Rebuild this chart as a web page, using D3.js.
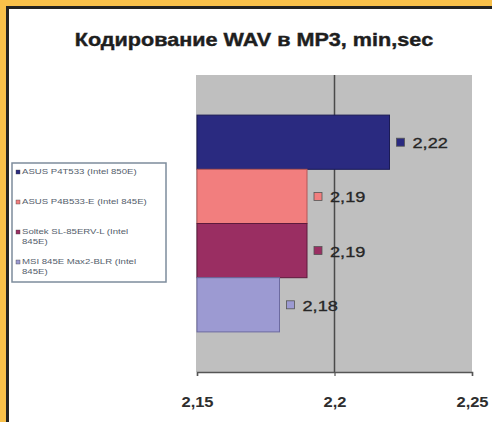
<!DOCTYPE html>
<html>
<head>
<meta charset="utf-8">
<script src="https://cdn.jsdelivr.net/npm/d3@7"></script>
<style>
  html, body { margin: 0; padding: 0; background: #F8C04A; }
  svg { display: block; }
  text { font-family: "Liberation Sans", Arial, sans-serif; }
</style>
</head>
<body>
<svg id="chart" width="492" height="422"></svg>
<script>
// Encoding time WAV -> MP3, one bar per board
const title = "Кодирование WAV в MP3, min,sec";
const boards = [
  "ASUS P4T533 (Intel 850E)",
  "ASUS P4B533-E (Intel 845E)",
  "Soltek SL-85ERV-L (Intel 845E)",
  "MSI 845E Max2-BLR (Intel 845E)"
];
const times = [2.22, 2.19, 2.19, 2.18];
const barColors = ["#2A2A80", "#F27E7E", "#9A2E62", "#9C9AD2"];
const barStrokes = ["#1B1B55", "#B55656", "#5E1A3C", "#6C6AA0"];
const xTicks = [2.15, 2.2, 2.25];

const svg = d3.select("#chart");
const W = 492, H = 422;
const stretch = 1.2; // glyphs are drawn slightly wide

// Place a text horizontally widened around its anchor point
function wideText(parent, x0, y0, f, str, anchor = "start") {
  return parent.append("text")
    .attr("transform", `translate(${x0},${y0}) scale(${f},1)`)
    .attr("text-anchor", anchor)
    .text(str);
}

// Frame: yellow surround with a dark rule around the white panel
svg.append("rect").attr("x", 0).attr("y", 0).attr("width", W).attr("height", H).attr("fill", "#F8C04A");
svg.append("rect")
  .attr("x", 7.5).attr("y", 7.5).attr("width", W + 10).attr("height", H + 10)
  .attr("fill", "#FFFFFF").attr("stroke", "#222222").attr("stroke-width", 3);

// Title
wideText(svg, 254, 46, stretch, title, "middle")
  .attr("font-size", 18).attr("font-weight", "bold").attr("fill", "#1E1E1E")
  .attr("stroke", "#1E1E1E").attr("stroke-width", 0.4);

// Plot area
const plot = { left: 196, right: 472, top: 75, bottom: 372 };
const x = d3.scaleLinear().domain([xTicks[0], xTicks[xTicks.length - 1]]).range([plot.left + 1, plot.right]);
const y = d3.scaleBand().domain(d3.range(boards.length)).range([plot.top, plot.bottom]).paddingOuter(0.74).paddingInner(0);

svg.append("rect")
  .attr("x", plot.left).attr("y", plot.top)
  .attr("width", plot.right - plot.left).attr("height", plot.bottom - plot.top)
  .attr("fill", "#BFBFBF");

// Vertical gridlines at interior ticks
svg.append("g").selectAll("line")
  .data(xTicks.slice(1, -1))
  .join("line")
  .attr("x1", d => x(d)).attr("x2", d => x(d))
  .attr("y1", plot.top).attr("y2", plot.bottom)
  .attr("stroke", "#4A4A4A").attr("stroke-width", 1.5);

// Bars
svg.append("g").selectAll("rect")
  .data(times)
  .join("rect")
  .attr("x", x(xTicks[0]))
  .attr("y", (d, i) => y(i))
  .attr("width", d => x(d) - x(xTicks[0]))
  .attr("height", y.bandwidth())
  .attr("fill", (d, i) => barColors[i])
  .attr("stroke", (d, i) => barStrokes[i])
  .attr("stroke-width", 1);

// Value labels with legend keys
const fmt = d => String(d).replace(".", ",");
const labels = svg.append("g").selectAll("g")
  .data(times)
  .join("g")
  .attr("transform", (d, i) => `translate(${x(d)},${y(i) + y.bandwidth() / 2})`);
labels.append("rect")
  .attr("x", 7).attr("y", -4).attr("width", 8).attr("height", 8)
  .attr("fill", (d, i) => barColors[i])
  .attr("stroke", "#555").attr("stroke-width", 0.8);
labels.each(function (d) {
  wideText(d3.select(this), 23, 6, 1.3, d3.format(".2f")(d).replace(".", ","))
    .attr("font-size", 14).attr("fill", "#262626")
    .attr("stroke", "#262626").attr("stroke-width", 0.3);
});

// X axis
const axis = svg.append("g").attr("transform", `translate(0,${plot.bottom})`)
  .call(d3.axisBottom(x).tickValues(xTicks).tickSize(4).tickFormat(""));
axis.select(".domain").attr("stroke", "#555").attr("stroke-width", 1.5);
axis.selectAll(".tick line").attr("stroke", "#555").attr("stroke-width", 1.2);
axis.selectAll(".tick").each(function (d) {
  wideText(d3.select(this), 0, 35, 1.1, fmt(d), "middle")
    .attr("font-size", 15).attr("fill", "#2E2E2E").attr("font-weight", "bold");
});

// Legend
const legend = svg.append("g");
legend.append("rect")
  .attr("x", 12).attr("y", 163).attr("width", 154).attr("height", 119)
  .attr("fill", "#FFFFFF").attr("stroke", "#7D8C9C").attr("stroke-width", 1.5);

const legendY = [174, 204, 234, 264];
const maxLine = 130;
boards.forEach((name, i) => {
  legend.append("rect")
    .attr("x", 16).attr("y", legendY[i] - 4).attr("width", 4).attr("height", 4)
    .attr("fill", barColors[i]).attr("stroke", "#444").attr("stroke-width", 0.4);
  // wrap the board name onto as many rows as needed
  const words = name.split(" ");
  let row = [], rows = [];
  const probe = legend.append("text").attr("font-size", 8);
  words.forEach(w => {
    const trial = row.concat(w).join(" ");
    probe.text(trial);
    if (probe.node().getComputedTextLength() * stretch > maxLine && row.length) {
      rows.push(row.join(" "));
      row = [w];
    } else {
      row.push(w);
    }
  });
  rows.push(row.join(" "));
  probe.remove();
  rows.forEach((r, k) => {
    wideText(legend, 22, legendY[i] + k * 10, stretch, r)
      .attr("font-size", 8).attr("fill", "#55606C");
  });
});
</script>
</body>
</html>
